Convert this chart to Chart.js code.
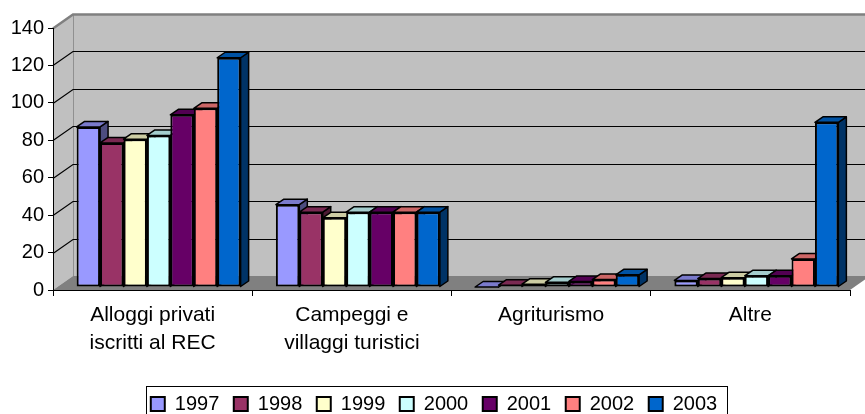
<!DOCTYPE html>
<html>
<head>
<meta charset="utf-8">
<script src="https://cdn.jsdelivr.net/npm/chart.js@4.4.1/dist/chart.umd.min.js"></script>
<style>
  html, body { margin: 0; padding: 0; background: #fff; }
  #wrap { width: 865px; height: 414px; position: relative; }
</style>
</head>
<body>
<div id="wrap"><canvas id="chart"></canvas></div>
<script>
// dati
const categories = [['Alloggi privati', 'iscritti al REC'], ['Campeggi e', 'villaggi turistici'], 'Agriturismo', 'Altre'];
const years = ['1997', '1998', '1999', '2000', '2001', '2002', '2003'];
const v1997 = [85.5, 44, 0, 3.5];
const v1998 = [77, 40, 1, 4.5];
const v1999 = [79, 37, 1.5, 5];
const v2000 = [81, 40, 2.5, 6];
const v2001 = [92, 40, 3, 6];
const v2002 = [95.5, 40, 4, 15];
const v2003 = [122.5, 40, 6.5, 88];
const yTicks = [0, 20, 40, 60, 80, 100, 120, 140];
const seriesColors = ['#9999FF', '#993366', '#FFFFCC', '#CCFFFF', '#660066', '#FF8080', '#0066CC'];

const FONT = "'Liberation Sans', Arial, sans-serif";
const DX = 20, DY = 14;        // profondita' pareti
const BX = 8, BY = 5.5;        // profondita' barre
const SHIFT_X = 6, SHIFT_Y = 3;
const LEGEND_SHIFT = 9;

function shade(hex, f) {
  const n = parseInt(hex.slice(1), 16);
  const r = Math.round(((n >> 16) & 255) * f);
  const g = Math.round(((n >> 8) & 255) * f);
  const b = Math.round((n & 255) * f);
  return 'rgb(' + r + ',' + g + ',' + b + ')';
}

const walls3d = {
  id: 'walls3d',
  afterLayout(chart) {
    chart.legend.left += LEGEND_SHIFT;
    chart.legend.right += LEGEND_SHIFT;
  },
  beforeDraw(chart) {
    const {ctx, chartArea: a, scales: {y}} = chart;
    const L = a.left, R = a.right, T = a.top, B = a.bottom;
    const far = chart.width + 20;
    ctx.save();
    ctx.fillStyle = '#c0c0c0';
    ctx.fillRect(L + DX, T - DY, far - L - DX, B - T);
    ctx.beginPath();
    ctx.moveTo(L, T); ctx.lineTo(L + DX, T - DY); ctx.lineTo(L + DX, B - DY); ctx.lineTo(L, B);
    ctx.closePath(); ctx.fill();
    // pavimento
    ctx.fillStyle = '#808080';
    ctx.beginPath();
    ctx.moveTo(L, B); ctx.lineTo(R, B); ctx.lineTo(R + DX, B - DY); ctx.lineTo(L + DX, B - DY);
    ctx.closePath(); ctx.fill();
    // spigolo interno
    ctx.strokeStyle = '#909090';
    ctx.lineWidth = 1;
    ctx.beginPath(); ctx.moveTo(L + DX + 0.5, T - DY); ctx.lineTo(L + DX + 0.5, B - DY); ctx.stroke();
    // griglia
    yTicks.forEach(v => {
      if (v === 0) return;
      const py = Math.round(y.getPixelForValue(v)) + 0.5;
      const top = v === yTicks[yTicks.length - 1];
      ctx.strokeStyle = top ? '#808080' : '#000';
      ctx.lineWidth = top ? 2.5 : 1.2;
      ctx.beginPath();
      ctx.moveTo(L, py); ctx.lineTo(L + DX, py - DY); ctx.lineTo(far, py - DY);
      ctx.stroke();
    });
    ctx.restore();
  },
  beforeDatasetsDraw(chart) {
    const ctx = chart.ctx;
    ctx.save();
    ctx.translate(SHIFT_X, -SHIFT_Y);
    ctx.lineWidth = 1.5;
    ctx.strokeStyle = '#000';
    ctx.lineJoin = 'round';
    // facce laterali e superiori, da sinistra a destra
    categories.forEach((c, j) => {
      years.forEach((yr, i) => {
        const bar = chart.getDatasetMeta(i).data[j];
        const {x, y, base, width} = bar.getProps(['x', 'y', 'base', 'width'], true);
        const l = x - width / 2, r = x + width / 2;
        ctx.fillStyle = shade(seriesColors[i], 0.5);
        ctx.beginPath();
        ctx.moveTo(r, y); ctx.lineTo(r + BX, y - BY); ctx.lineTo(r + BX, base - BY); ctx.lineTo(r, base);
        ctx.closePath(); ctx.fill(); ctx.stroke();
        ctx.fillStyle = shade(seriesColors[i], 0.8);
        ctx.beginPath();
        ctx.moveTo(l, y); ctx.lineTo(r, y); ctx.lineTo(r + BX, y - BY); ctx.lineTo(l + BX, y - BY);
        ctx.closePath(); ctx.fill(); ctx.stroke();
      });
    });
  },
  afterDatasetsDraw(chart) {
    chart.ctx.restore();
  },
  afterDraw(chart) {
    const ctx = chart.ctx;
    const boxes = chart.legend.legendHitBoxes;
    if (!boxes || !boxes.length) return;
    const left = Math.min(...boxes.map(b => b.left)) - 5;
    const right = Math.max(...boxes.map(b => b.left + b.width)) + 10;
    const top = boxes[0].top - 8;
    ctx.save();
    ctx.strokeStyle = '#000';
    ctx.lineWidth = 1;
    ctx.strokeRect(Math.round(left) + 0.5, Math.round(top) + 0.5, Math.round(right - left), 60);
    ctx.restore();
  }
};

const seriesValues = [v1997, v1998, v1999, v2000, v2001, v2002, v2003];

Chart.defaults.color = '#000';
Chart.defaults.font.family = FONT;

new Chart(document.getElementById('chart'), {
  type: 'bar',
  data: {
    labels: categories,
    datasets: years.map((yr, i) => ({
      label: yr,
      data: seriesValues[i],
      backgroundColor: seriesColors[i],
      borderColor: '#000',
      borderWidth: 2,
      borderSkipped: false,
      clip: false
    }))
  },
  options: {
    responsive: true,
    maintainAspectRatio: false,
    animation: false,
    layout: { padding: { top: 28, left: 0, right: 15, bottom: -10 } },
    datasets: { bar: { categoryPercentage: 0.823, barPercentage: 1.0 } },
    scales: {
      x: {
        grid: { offset: true, drawOnChartArea: false, tickLength: 6, color: '#000' },
        border: { display: true, color: '#000', width: 1 },
        ticks: { font: { size: 21, lineHeight: 1.33 }, padding: 5, maxRotation: 0, autoSkip: false },
        afterFit: s => { s.height = 89.5; }
      },
      y: {
        min: 0,
        max: 140,
        grid: { drawOnChartArea: false, tickLength: 5, color: '#000' },
        border: { display: true, color: '#000', width: 1 },
        ticks: { font: { size: 20 }, padding: 4 },
        afterBuildTicks: s => { s.ticks = yTicks.map(v => ({ value: v })); },
        afterFit: s => { s.width = 53; }
      }
    },
    plugins: {
      legend: {
        position: 'bottom',
        labels: { font: { size: 20 }, boxWidth: 14, boxHeight: 14, padding: 14.5 }
      },
      tooltip: { enabled: false }
    }
  },
  plugins: [walls3d]
});
</script>
</body>
</html>
